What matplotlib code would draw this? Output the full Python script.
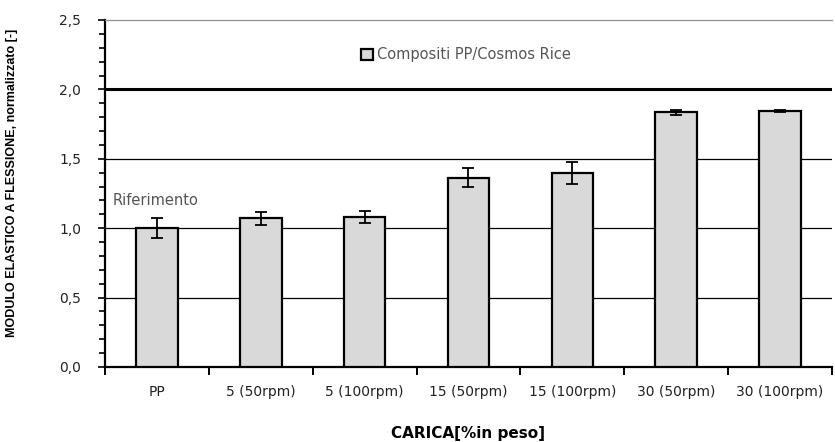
import numpy as np
import matplotlib.pyplot as plt


# Data

categorie = ["PP", "5 (50rpm)", "5 (100rpm)", "15 (50rpm)", "15 (100rpm)", "30 (50rpm)", "30 (100rpm)"]
modulo = [1.00, 1.07, 1.08, 1.364, 1.40, 1.837, 1.844]
errore = [0.071, 0.050, 0.042, 0.067, 0.080, 0.018, 0.005]


# Figure

fig = plt.figure(figsize=(8.35, 4.42), dpi=100)
ax = fig.add_axes([0.1257, 0.1697, 0.8707, 0.7851])

x = np.arange(len(categorie))
ax.bar(x, modulo, width=0.4, color="#d9d9d9", edgecolor="black", linewidth=1.6,
       label="Compositi PP/Cosmos Rice", zorder=3)
ax.errorbar(x, modulo, yerr=errore, fmt="none", ecolor="black", elinewidth=1.3,
            capsize=4, capthick=1.3, zorder=4)

for yv in [0.5, 1.0, 1.5]:
    ax.axhline(yv, color="black", linewidth=0.9, zorder=1)
ax.axhline(2.0, color="black", linewidth=2.2, zorder=1)

ax.set_xlim(-0.5, len(categorie) - 0.5)
ax.set_ylim(0, 2.5)

# axis ticks
ax.set_yticks(np.arange(0, 2.51, 0.5))
ax.set_yticklabels([f"{v:.1f}".replace(".", ",") for v in np.arange(0, 2.51, 0.5)],
                   fontsize=10, color="#222222")
ax.set_yticks(np.arange(0, 2.51, 0.1), minor=True)
ax.tick_params(axis="y", which="major", length=5, width=1.2, direction="out", pad=12)
ax.tick_params(axis="y", which="minor", length=4, width=1.2, direction="out")

ax.set_xticks(np.arange(-0.5, len(categorie), 1.0))
ax.set_xticklabels([])
ax.set_xticks(x, minor=True)
ax.set_xticklabels(categorie, minor=True, fontsize=10, color="#222222")
ax.tick_params(axis="x", which="major", length=6, width=1.4, direction="out")
ax.tick_params(axis="x", which="minor", length=0, pad=13)

for s in ["left", "bottom"]:
    ax.spines[s].set_linewidth(1.6)
ax.spines["right"].set_visible(False)
ax.spines["top"].set_color("#909090")
ax.spines["top"].set_linewidth(0.9)

ax.text(-0.43, 1.2, "Riferimento", fontsize=10.5, color="#555555", ha="left", va="center")

ax.set_ylabel("MODULO ELASTICO A FLESSIONE, normalizzato [-]", fontsize=9, fontweight="bold",
              family="Liberation Sans")
ax.yaxis.set_label_coords(-0.12, 0.53)
ax.set_xlabel("CARICA[%in peso]", fontsize=11, fontweight="bold")
ax.xaxis.set_label_coords(0.5, -0.17)

leg = ax.legend(loc="center", bbox_to_anchor=(0.497, 0.9), frameon=False, fontsize=10.5,
                handlelength=0.8, handleheight=0.8, handletextpad=0.3)
for t in leg.get_texts():
    t.set_color("#555555")

plt.savefig("out.png", dpi=100)
